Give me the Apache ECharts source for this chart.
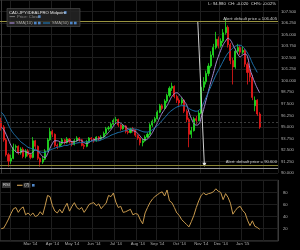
<!DOCTYPE html>
<html><head><meta charset="utf-8">
<script src="https://cdn.jsdelivr.net/npm/echarts@6/dist/echarts.min.js"></script>
<style>html,body{margin:0;padding:0;background:#000}#c{width:300px;height:250px}</style>
</head><body><div id="c"></div>
<script>
const dates = ['2014-01-20','2014-01-23','2014-01-27','2014-01-30',
'2014-02-03','2014-02-06','2014-02-10','2014-02-13','2014-02-17','2014-02-20','2014-02-24','2014-02-27',
'2014-03-03','2014-03-06','2014-03-10','2014-03-13','2014-03-17','2014-03-20','2014-03-24','2014-03-27','2014-03-31',
'2014-04-03','2014-04-07','2014-04-10','2014-04-14','2014-04-17','2014-04-21','2014-04-24','2014-04-28',
'2014-05-01','2014-05-05','2014-05-08','2014-05-12','2014-05-15','2014-05-19','2014-05-22','2014-05-26','2014-05-29',
'2014-06-02','2014-06-05','2014-06-09','2014-06-12','2014-06-16','2014-06-19','2014-06-23','2014-06-26','2014-06-30',
'2014-07-03','2014-07-07','2014-07-10','2014-07-14','2014-07-17','2014-07-21','2014-07-24','2014-07-28','2014-07-31',
'2014-08-04','2014-08-07','2014-08-11','2014-08-14','2014-08-18','2014-08-21','2014-08-25','2014-08-28',
'2014-09-01','2014-09-04','2014-09-08','2014-09-11','2014-09-15','2014-09-18','2014-09-22','2014-09-25','2014-09-29',
'2014-10-02','2014-10-06','2014-10-09','2014-10-13','2014-10-16','2014-10-20','2014-10-23','2014-10-27','2014-10-30',
'2014-11-03','2014-11-06','2014-11-10','2014-11-13','2014-11-17','2014-11-20','2014-11-24','2014-11-27',
'2014-12-01','2014-12-04','2014-12-08','2014-12-11','2014-12-15','2014-12-18','2014-12-22','2014-12-25','2014-12-29',
'2015-01-01','2015-01-05','2015-01-08','2015-01-12','2015-01-15','2015-01-19','2015-01-22','2015-01-26',
'2015-01-29','2015-02-02','2015-02-05','2015-02-09','2015-02-12','2015-02-16','2015-02-19'];

// [open, close, low, high]
const ohlc = [
[95.6,95.0,94.6,96.0],[95.0,93.6,93.4,95.2],[93.6,92.0,91.8,93.8],[92.0,91.3,90.7,92.2],
[91.3,91.6,91.0,92.0],[91.6,92.8,91.5,93.2],[92.8,92.9,92.3,93.1],[92.9,92.2,92.0,93.0],
[92.2,92.6,92.0,92.8],[92.6,91.8,91.6,92.8],[91.8,92.4,91.6,92.6],[92.4,92.0,91.8,92.6],
[92.0,91.7,91.5,92.2],[91.7,93.5,91.6,93.9],[93.5,92.9,92.6,93.6],[92.9,91.6,91.4,93.0],
[91.6,91.2,90.7,91.7],[91.2,91.5,91.0,91.8],[91.5,92.4,91.4,92.6],[92.4,93.6,92.3,93.8],
[93.6,94.5,93.5,94.9],[94.5,94.2,93.9,94.7],[94.2,93.0,92.8,94.3],[93.0,92.9,92.6,93.2],
[92.9,93.2,92.8,93.4],[93.2,93.6,93.0,93.8],[93.6,93.3,93.1,93.7],[93.3,93.7,93.2,93.9],
[93.7,93.4,93.2,93.8],[93.4,93.1,92.9,93.5],[93.1,93.5,93.0,93.7],[93.5,93.8,93.4,94.0],
[93.8,93.6,93.4,93.9],[93.6,93.0,92.9,93.7],[93.0,92.9,92.6,93.2],[92.9,93.4,92.8,93.6],
[93.4,93.8,93.3,93.9],[93.8,93.7,93.5,93.9],[93.7,93.5,93.3,93.8],[93.5,93.9,93.4,94.0],
[93.9,93.7,93.5,94.0],[93.7,93.9,93.6,94.1],[93.9,94.3,93.8,94.5],[94.3,94.8,94.2,95.0],
[94.8,94.9,94.6,95.1],[94.9,95.3,94.8,95.5],[95.3,95.7,95.2,95.9],[95.7,95.8,95.4,96.1],
[95.8,95.2,95.0,95.9],[95.2,94.8,94.6,95.3],[94.8,95.1,94.7,95.3],[95.1,94.5,94.3,95.2],
[94.5,94.4,94.2,94.7],[94.4,94.8,94.3,94.9],[94.8,94.7,94.4,95.0],[94.7,94.1,93.9,94.8],
[94.1,93.8,93.6,94.2],[93.8,93.3,93.0,93.9],[93.3,93.5,92.9,93.7],[93.5,93.9,93.4,94.1],
[93.9,94.2,93.8,94.4],[94.2,95.2,94.1,95.4],[95.2,95.6,95.0,95.8],[95.6,95.9,95.4,96.1],
[95.9,96.6,95.8,96.8],[96.6,97.3,96.5,97.5],[97.3,97.0,96.8,97.5],[97.0,97.8,96.9,98.0],
[97.8,98.4,97.6,98.6],[98.4,99.2,98.2,99.4],[99.2,99.4,98.9,99.8],[99.4,98.3,98.1,99.5],
[98.3,97.9,97.6,98.5],[97.9,97.6,97.3,98.1],[97.6,97.9,97.4,98.2],[97.9,96.7,96.5,98.0],
[96.7,95.8,95.5,96.9],[95.8,94.2,92.8,96.0],[94.2,94.6,93.8,95.0],[94.6,95.9,94.5,96.1],
[95.9,95.7,95.3,96.2],[95.7,96.5,95.6,96.8],[96.5,99.3,96.4,99.6],[99.3,99.9,98.9,100.4],
[99.9,100.8,99.6,101.1],[100.8,101.6,100.5,101.9],[101.6,102.8,101.4,103.2],[102.8,103.6,102.5,104.0],
[103.6,104.5,103.4,105.3],[104.5,103.8,103.5,104.8],[103.8,104.3,103.6,104.6],[104.3,105.2,104.1,105.6],
[105.2,105.8,105.0,106.7],[105.8,103.9,103.6,106.0],[103.9,102.2,101.8,104.1],[102.2,101.5,99.6,102.5],
[101.5,103.2,101.3,103.5],[103.2,103.6,103.0,104.0],[103.6,103.1,102.8,103.8],[103.1,103.3,102.9,103.7],
[103.3,101.8,101.5,103.5],[101.8,100.9,99.6,102.0],[100.9,100.4,99.9,101.3],[100.4,98.2,97.9,100.6],
[97.3,97.9,96.7,98.3],[97.9,96.4,96.2,98.0],[96.4,94.98,94.8,96.6]];

const sma10 = [95.0,94.7,94.2,93.6,93.0,92.6,92.3,92.2,92.3,92.4,92.3,92.2,92.1,92.3,92.5,92.4,92.1,91.8,91.7,92.1,
92.7,93.2,93.5,93.5,93.4,93.3,93.3,93.4,93.5,93.4,93.4,93.5,93.6,93.5,93.3,93.2,93.3,93.5,93.6,93.7,
93.7,93.8,93.9,94.1,94.4,94.7,95.1,95.4,95.5,95.4,95.2,95.0,94.8,94.7,94.6,94.5,94.3,94.0,93.7,93.6,
93.7,94.0,94.4,94.9,95.4,96.0,96.5,96.9,97.3,97.8,98.3,98.6,98.7,98.5,98.2,97.8,97.4,96.6,95.9,95.4,
95.2,95.3,96.0,96.9,97.9,98.9,99.9,100.8,101.8,102.6,103.3,103.9,104.3,104.6,104.4,103.9,103.4,102.9,102.6,102.8,
102.9,102.6,101.3,100.5,99.8,99.2,98.7];

const sma50 = [96.6,96.3,95.8,95.2,94.7,94.3,94.0,93.7,93.4,93.2,93.0,92.8,92.7,92.6,92.5,92.4,92.3,92.25,92.25,92.4,
92.5,92.6,92.7,92.8,92.85,92.9,93.0,93.0,93.1,93.15,93.2,93.25,93.3,93.3,93.35,93.4,93.4,93.45,93.5,93.5,
93.5,93.6,93.7,93.85,93.95,94.1,94.2,94.3,94.4,94.45,94.55,94.6,94.7,94.75,94.8,94.75,94.7,94.6,94.5,94.45,
94.45,94.55,94.7,94.9,95.1,95.4,95.7,96.0,96.3,96.6,96.8,97.0,97.15,97.25,97.3,97.3,97.2,97.0,96.85,96.75,
96.7,96.8,97.1,97.6,98.2,98.8,99.4,100.0,100.6,101.1,101.6,102.1,102.6,103.0,103.3,103.55,103.75,103.85,103.85,103.7,
103.4,103.0,102.5,101.9,101.4,100.9];

const rsi7 = [20,21,28,36,45,53,55,47,53,56,43,46,42,46,40,42,48,43,58,75,
73,58,49,46,52,46,55,62,49,57,63,55,52,55,47,53,60,62,63,58,
61,53,58,62,75,73,79,64,55,57,47,48,50,52,43,45,44,35,28,46,
55,63,69,73,76,79,81,74,84,66,63,55,46,42,35,31,27,23,32,42,
55,66,75,79,76,78,79,81,86,82,80,68,78,72,62,44,50,55,57,50,
46,34,25,33,24,22,19];

const monthTickDates = ['2014-02-03','2014-03-03','2014-04-03','2014-05-01','2014-06-02','2014-07-03','2014-08-04',
'2014-09-01','2014-10-02','2014-11-03','2014-12-01','2015-01-01','2015-02-02'];
const monthTickLabels = ['',"Mar '14","Apr '14","May '14","Jun '14","Jul '14","Aug '14","Sep '14","Oct '14","Nov '14","Dec '14","Jan '15",''];

const alertHigh = 106.43, alertLow = 90.86, lowLine = 90.5, lastPriceLine = 95.55;
const alertHighText = 'Alert: default price = 106.405';
const alertLowText = 'Alert: default price = 90.600';
// arrow drawing: [categoryPosition, price]
const arrowLine = [[80.6,106.43],[83.3,90.9]];

const FONT = 'Liberation Sans, Arial, sans-serif';
const FS = 4.2;
const chart = echarts.init(document.getElementById('c'), null, {renderer:'canvas'});
const N = dates.length;
const isTick = (v) => monthTickDates.indexOf(v) >= 0;

const txt = (x, y, t, fill, size, extra) => Object.assign({type:'text', z:100, style:{text:t, x:x, y:y, fill:fill, fontSize:size||FS, fontFamily:FONT, verticalAlign:'middle', textVerticalAlign:'middle'}}, extra||{});
const rect = (x, y, w, h, fill, stroke) => ({type:'rect', z:99, shape:{x:x,y:y,width:w,height:h}, style:{fill:fill, stroke:stroke||null, lineWidth:stroke?0.6:0}});
const seg = (x1, y1, x2, y2, c, w) => ({type:'line', z:100, shape:{x1:x1,y1:y1,x2:x2,y2:y2}, style:{stroke:c, lineWidth:w||1}});

chart.setOption({
  animation:false,
  backgroundColor:'#000',
  grid:[
    {left:-3, right:22, top:-2.4, height:175.5, show:false},
    {left:-3, right:22, top:180.3, height:60.5, show:true, borderColor:'#3a3a3a', borderWidth:1, backgroundColor:'transparent'}
  ],
  xAxis:[
    {type:'category', gridIndex:0, data:dates, boundaryGap:true,
     axisLine:{show:false}, axisTick:{show:false}, axisLabel:{show:false},
     splitLine:{show:true, interval:(i,v)=>isTick(dates[i]), lineStyle:{color:'#1e1e1e', width:1}}},
    {type:'category', gridIndex:1, data:dates, boundaryGap:true,
     axisLine:{show:false}, axisTick:{show:false},
     axisLabel:{show:true, interval:(i,v)=>isTick(v), formatter:(v)=>monthTickLabels[monthTickDates.indexOf(v)]||'', color:'#b0b0b0', fontSize:FS, fontFamily:FONT, margin:1.5},
     splitLine:{show:true, interval:(i,v)=>isTick(dates[i]), lineStyle:{color:'#1e1e1e', width:1}}},
    {type:'value', gridIndex:0, min:-0.5, max:N-0.5, show:false}
  ],
  yAxis:[
    {type:'value', gridIndex:0, position:'right', min:90, max:108.75, interval:1.25, scale:true,
     axisLine:{show:true, lineStyle:{color:'#3a3a3a'}}, axisTick:{show:false},
     axisLabel:{color:'#b0b0b0', fontSize:FS, fontFamily:FONT, margin:3, showMaxLabel:false, formatter:(v)=>v.toFixed(3)},
     splitLine:{show:true, lineStyle:{color:'#1e1e1e'}}},
    {type:'value', gridIndex:1, position:'right', min:0, max:100, interval:20,
     axisLine:{show:true, lineStyle:{color:'#3a3a3a'}}, axisTick:{show:false},
     axisLabel:{color:'#b0b0b0', fontSize:FS, fontFamily:FONT, margin:5, showMinLabel:false, showMaxLabel:false},
     splitLine:{show:true, lineStyle:{color:'#1e1e1e'}}}
  ],
  series:[
    {type:'candlestick', xAxisIndex:0, yAxisIndex:0, data:ohlc, barWidth:1.6,
     itemStyle:{color:'#22e022', color0:'#ee1a1a', borderColor:'#22e022', borderColor0:'#ee1a1a', borderWidth:0.8},
     markLine:{silent:true, symbol:['none','none'], animation:false,
       data:[
        {yAxis:alertHigh, lineStyle:{color:'#9a9440', width:1.2, type:'solid'}, label:{show:true, position:'insideEndTop', formatter:alertHighText, color:'#cfcfcf', fontSize:FS, fontFamily:FONT, distance:1}},
        {yAxis:alertLow, lineStyle:{color:'#8a8434', width:1.2, type:'solid'}, label:{show:true, position:'insideEndTop', formatter:alertLowText, color:'#cfcfcf', fontSize:FS, fontFamily:FONT, distance:1}},
        {yAxis:lowLine, lineStyle:{color:'#9a9a9a', width:1, type:'solid'}, label:{show:false}},
        {yAxis:lastPriceLine, lineStyle:{color:'#4a4a4a', width:0.8, type:[2,2]}, label:{show:false}}
       ]}},
    {type:'line', xAxisIndex:0, yAxisIndex:0, data:sma10, showSymbol:false, smooth:true, lineStyle:{color:'#a68ad2', width:1}},
    {type:'line', xAxisIndex:0, yAxisIndex:0, data:sma50, showSymbol:false, smooth:true, lineStyle:{color:'#1f74b0', width:1}},
    {type:'line', xAxisIndex:2, yAxisIndex:0, data:arrowLine, showSymbol:true,
     symbol:(v,p)=>p.dataIndex===1?'triangle':'none', symbolRotate:180, symbolSize:[4,4],
     itemStyle:{color:'#e8e8e8'}, lineStyle:{color:'#d0d0d0', width:1}},
    {type:'line', xAxisIndex:1, yAxisIndex:1, data:rsi7, showSymbol:false, lineStyle:{color:'#c89a4e', width:1}}
  ],
  graphic:[
    rect(7, 8.5, 73, 18, 'rgba(38,38,38,0.85)', '#555'),
    txt(9, 12.5, 'CAD.JPY:IDEALPRO Midpoint', '#e6e6e6', FS),
    rect(64, 11.2, 2.6, 2.6, '#4f86c8'),
    seg(9.5, 16.6, 15, 16.6, '#777', 1),
    txt(17, 16.6, 'Price: Close', '#8a8a8a', FS),
    rect(38, 15.3, 2.6, 2.6, '#4f86c8'),
    seg(9.5, 23, 14.5, 23, '#a68ad2', 1.2),
    txt(16, 23, 'SMA(10)', '#aaaaaa', FS),
    rect(34, 21.7, 2.6, 2.6, '#4f86c8'),
    rect(38, 21.7, 2.6, 2.6, '#4f86c8'),
    seg(43, 23, 50, 23, '#1f74b0', 1.2),
    txt(52, 23, 'SMA(50)', '#aaaaaa', FS),
    rect(70, 21.7, 2.6, 2.6, '#4f86c8'),
    rect(74, 21.7, 2.6, 2.6, '#4f86c8'),
    txt(276, 3.6, 'L: 94.980  CH: -0.020  CH%: -0.02%', '#dcdcdc', FS, {style:{text:'L: 94.980  CH: -0.020  CH%: -0.02%', x:276, y:3.6, fill:'#dcdcdc', fontSize:FS, fontFamily:FONT, align:'right', textAlign:'right', verticalAlign:'middle', textVerticalAlign:'middle'}}),
    rect(2, 182.5, 9, 5.5, '#3a3a3a'),
    txt(3, 185.3, 'RSI', '#d0d0d0', FS),
    seg(17, 185.3, 22.5, 185.3, '#c89a4e', 1.2),
    rect(23.5, 182.8, 7, 5, '#3a3a3a'),
    txt(24.3, 185.3, '(7)', '#d0d0d0', FS),
    rect(32, 184, 2.6, 2.6, '#4f86c8')
  ]
});
</script></body></html>
